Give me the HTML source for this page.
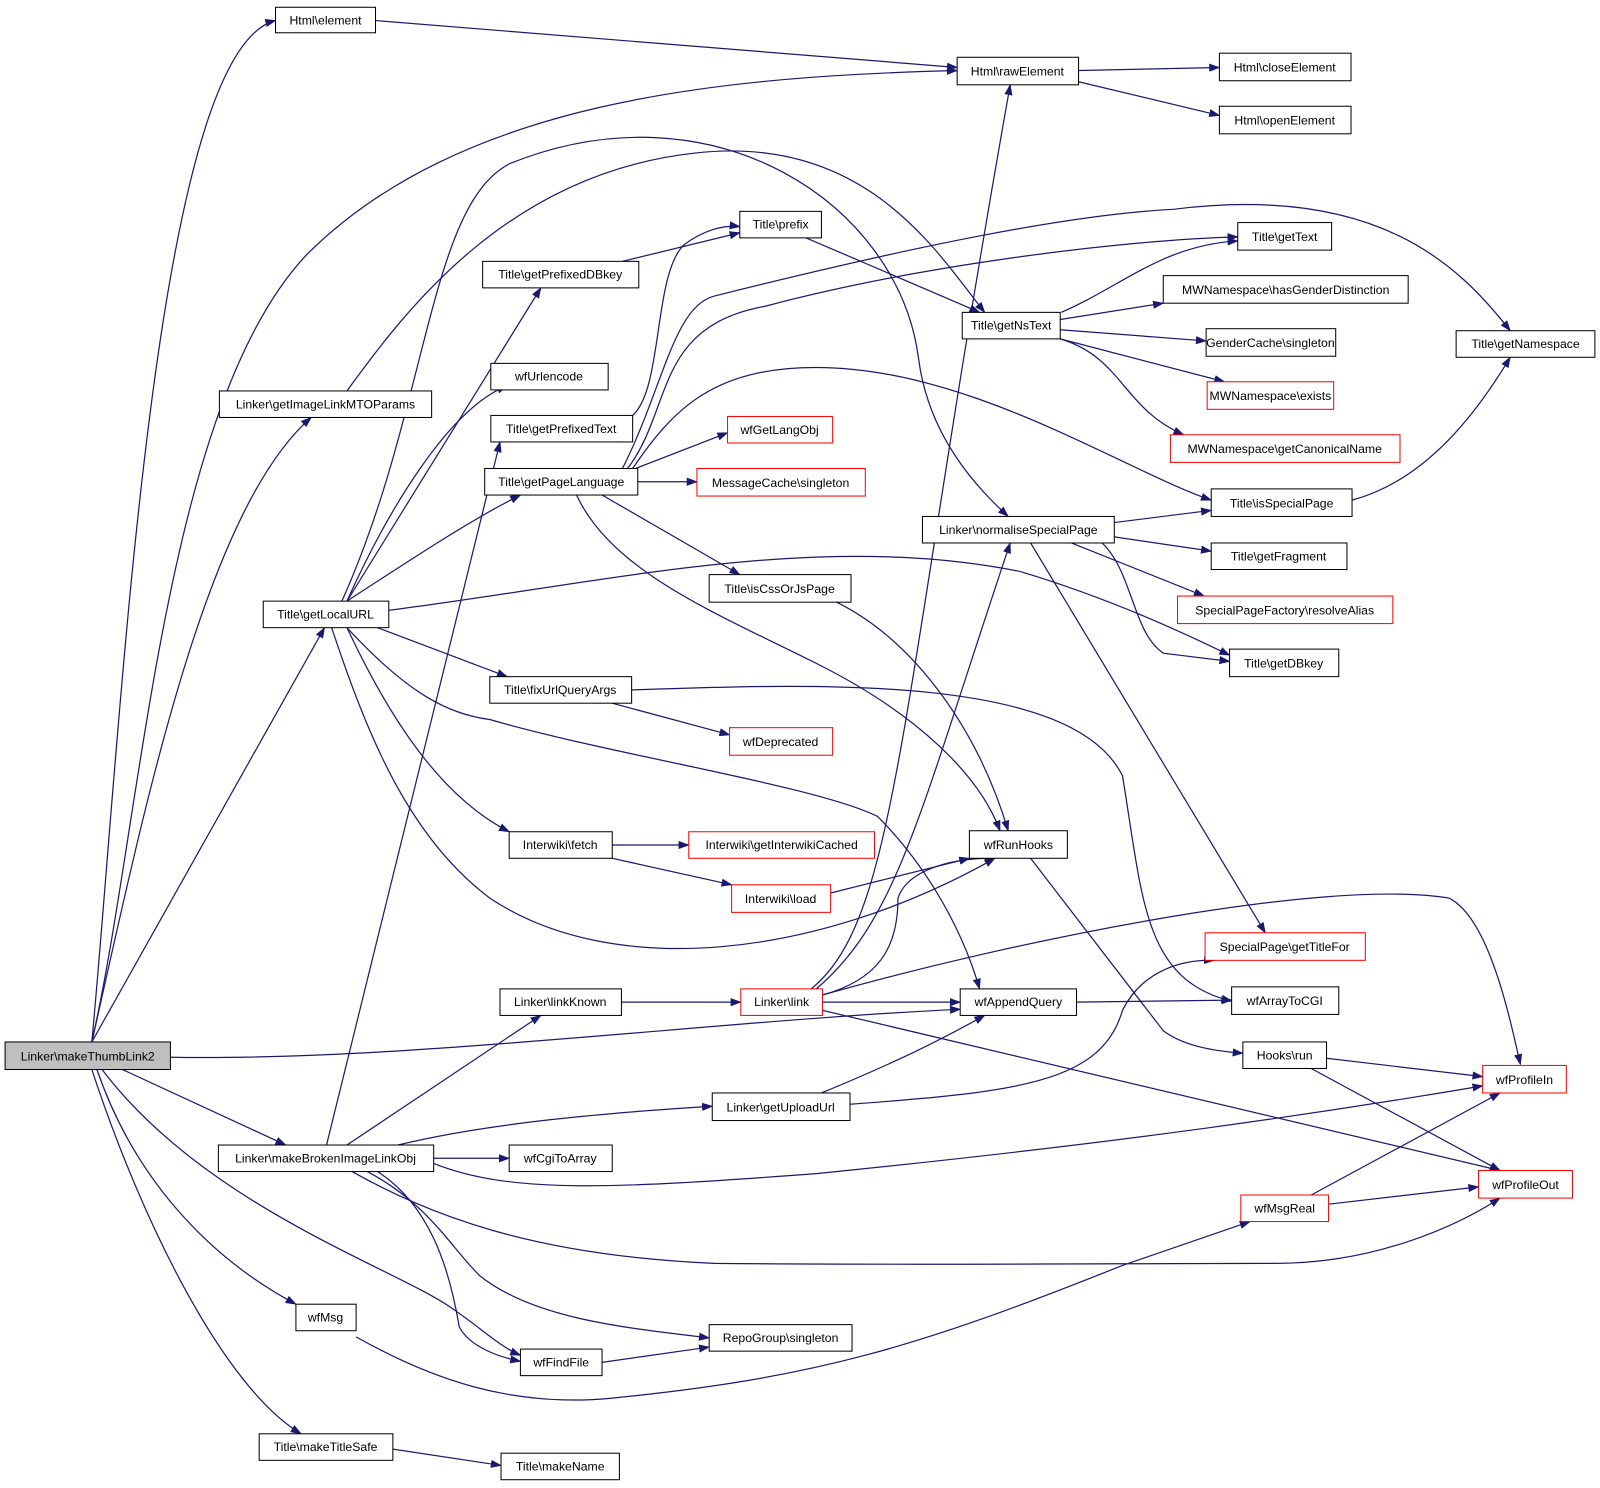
<!DOCTYPE html>
<html><head><meta charset="utf-8"><style>
html,body{margin:0;padding:0;background:#fff}
svg{display:block}
text{font-family:"Liberation Sans",Arial,sans-serif;font-size:12px;fill:#000}
.e{fill:none;stroke:#191970;stroke-width:1.2}
.n{fill:#fff;stroke:#000;stroke-width:1}
.r{fill:#fff;stroke:#ff0000;stroke-width:1}
</style></head><body>
<svg width="1600" height="1488" viewBox="0 0 1568 1458" xmlns="http://www.w3.org/2000/svg">
<defs><marker id="a" markerWidth="11" markerHeight="8" refX="10" refY="4" orient="auto" markerUnits="userSpaceOnUse"><polygon points="0,0 11,4 0,8" fill="#191970"/></marker></defs>
<g class="e" marker-end="url(#a)">
<path d="M90,1021 C120,700 150,50 270,20"/>
<path d="M90,1021 C140,800 160,400 300,250 C450,100 700,75 938,69"/>
<path d="M90,1021 C140,800 200,500 305,409"/>
<path d="M90,1021 L318,615"/>
<path d="M167,1036 C400,1040 700,1000 941,989"/>
<path d="M120,1048 L280,1122"/>
<path d="M95,1048 C130,1150 200,1230 290,1278"/>
<path d="M100,1048 C200,1180 380,1240 440,1280 C470,1300 490,1320 510,1328"/>
<path d="M90,1048 C140,1200 220,1360 295,1405"/>
<path d="M340,383 C400,300 500,170 680,150 C850,130 920,250 965,306"/>
<path d="M340,589 L530,282"/>
<path d="M340,589 C380,500 440,400 497,378"/>
<path d="M340,589 C400,550 460,510 510,485"/>
<path d="M335,589 C420,400 420,200 500,160 C700,80 880,200 900,350 C910,430 960,480 988,506"/>
<path d="M381,598 C600,570 800,520 1000,560 C1100,590 1180,630 1205,642"/>
<path d="M370,615 L497,663"/>
<path d="M340,615 C380,700 430,780 499,815"/>
<path d="M340,615 C400,680 440,700 480,705 C600,740 800,770 860,800 C900,840 940,900 960,969"/>
<path d="M325,615 C360,720 400,820 480,880 C600,960 800,940 975,841"/>
<path d="M610,256 L725,228"/>
<path d="M790,233 L960,306"/>
<path d="M620,407 C650,380 640,270 670,240 C690,225 710,220 725,222"/>
<path d="M610,459 C650,380 660,300 700,290 C900,240 1050,210 1150,205 C1350,180 1430,260 1480,324"/>
<path d="M615,459 C660,400 640,320 750,300 C900,260 1100,235 1213,232"/>
<path d="M620,459 C660,400 700,360 800,360 C950,360 1100,460 1187,490"/>
<path d="M615,462 L713,424"/>
<path d="M625,472 L683,472"/>
<path d="M590,485 L725,563"/>
<path d="M565,485 C600,560 700,600 800,650 C900,700 960,760 980,814"/>
<path d="M1040,306 C1100,280 1140,240 1213,236"/>
<path d="M1039,313 L1140,297"/>
<path d="M1039,323 L1182,334"/>
<path d="M1039,332 L1200,374"/>
<path d="M1039,332 C1100,350 1100,400 1160,426"/>
<path d="M1325,490 C1400,470 1450,400 1480,350"/>
<path d="M1092,512 L1187,500"/>
<path d="M1092,526 L1187,540"/>
<path d="M1050,532 L1180,584"/>
<path d="M1080,532 C1110,560 1110,620 1140,640 L1205,648"/>
<path d="M1010,532 L1240,914"/>
<path d="M820,590 C900,630 960,720 988,814"/>
<path d="M600,689 L715,720"/>
<path d="M619,676 C800,670 1050,660 1100,760 C1120,880 1120,960 1207,981"/>
<path d="M600,828 L675,828"/>
<path d="M600,841 L717,867"/>
<path d="M814,875 L950,841"/>
<path d="M1010,841 L1140,1010 C1160,1025 1190,1030 1218,1032"/>
<path d="M609,982 L726,982"/>
<path d="M795,969 C880,900 880,700 990,83"/>
<path d="M800,969 C880,900 900,800 990,532"/>
<path d="M806,975 C860,960 880,930 880,880 C890,850 940,840 975,841"/>
<path d="M806,975 C1000,920 1300,860 1420,880 C1460,900 1480,1000 1490,1043"/>
<path d="M806,982 L941,982"/>
<path d="M806,990 L1470,1147"/>
<path d="M1055,982 L1207,980"/>
<path d="M1300,1037 L1453,1055"/>
<path d="M1285,1047 L1470,1147"/>
<path d="M1285,1171 L1470,1071"/>
<path d="M1302,1180 L1449,1163"/>
<path d="M805,1071 C880,1040 920,1020 965,995"/>
<path d="M833,1082 C1000,1070 1080,1060 1100,990 C1120,950 1160,940 1190,941"/>
<path d="M340,1122 L530,995"/>
<path d="M320,1122 L490,433"/>
<path d="M390,1122 C480,1100 600,1090 698,1084"/>
<path d="M425,1135 L499,1135"/>
<path d="M425,1140 C500,1170 600,1165 800,1150 C1100,1120 1300,1090 1453,1064"/>
<path d="M345,1148 C420,1190 520,1230 700,1238 C900,1240 1100,1238 1250,1238 C1350,1238 1430,1200 1470,1174"/>
<path d="M360,1148 C420,1180 440,1220 470,1250 C520,1290 600,1300 695,1311"/>
<path d="M370,1148 C420,1180 440,1240 450,1300 C460,1320 490,1330 510,1334"/>
<path d="M349,1310 C420,1350 500,1380 600,1370 C800,1350 900,1320 1100,1240 L1225,1197"/>
<path d="M590,1335 L695,1320"/>
<path d="M385,1420 L491,1436"/>
<path d="M368,20 L938,66"/>
<path d="M1057,69 L1195,66"/>
<path d="M1057,80 L1195,113"/>
</g>
<g text-anchor="middle">
<rect class="n" x="270" y="7" width="98" height="25"/><text x="319" y="24">Html\element</text>
<rect class="n" x="938" y="56" width="119" height="27"/><text x="997" y="74">Html\rawElement</text>
<rect class="n" x="1195" y="52" width="129" height="27"/><text x="1259" y="70">Html\closeElement</text>
<rect class="n" x="1195" y="104" width="129" height="27"/><text x="1259" y="122">Html\openElement</text>
<rect class="n" x="725" y="207" width="80" height="26"/><text x="765" y="224">Title\prefix</text>
<rect class="n" x="1213" y="218" width="92" height="27"/><text x="1259" y="236">Title\getText</text>
<rect class="n" x="473" y="256" width="153" height="26"/><text x="549" y="273">Title\getPrefixedDBkey</text>
<rect class="n" x="1140" y="270" width="240" height="27"/><text x="1260" y="288">MWNamespace\hasGenderDistinction</text>
<rect class="n" x="943" y="306" width="96" height="26"/><text x="991" y="323">Title\getNsText</text>
<rect class="n" x="1182" y="322" width="127" height="27"/><text x="1245" y="340">GenderCache\singleton</text>
<rect class="n" x="1427" y="324" width="136" height="26"/><text x="1495" y="341">Title\getNamespace</text>
<rect class="n" x="481" y="356" width="115" height="26"/><text x="538" y="373">wfUrlencode</text>
<rect class="n" x="215" y="383" width="208" height="26"/><text x="319" y="400">Linker\getImageLinkMTOParams</text>
<rect class="r" x="1183" y="374" width="124" height="27"/><text x="1245" y="392">MWNamespace\exists</text>
<rect class="n" x="481" y="407" width="139" height="26"/><text x="550" y="424">Title\getPrefixedText</text>
<rect class="r" x="713" y="408" width="103" height="26"/><text x="764" y="425">wfGetLangObj</text>
<rect class="r" x="1147" y="426" width="225" height="27"/><text x="1259" y="444">MWNamespace\getCanonicalName</text>
<rect class="n" x="475" y="459" width="150" height="26"/><text x="550" y="476">Title\getPageLanguage</text>
<rect class="r" x="683" y="459" width="165" height="27"/><text x="765" y="477">MessageCache\singleton</text>
<rect class="n" x="1187" y="479" width="138" height="27"/><text x="1256" y="497">Title\isSpecialPage</text>
<rect class="n" x="904" y="506" width="188" height="26"/><text x="998" y="523">Linker\normaliseSpecialPage</text>
<rect class="n" x="1187" y="532" width="133" height="26"/><text x="1253" y="549">Title\getFragment</text>
<rect class="n" x="258" y="589" width="123" height="26"/><text x="319" y="606">Title\getLocalURL</text>
<rect class="n" x="695" y="563" width="139" height="27"/><text x="764" y="581">Title\isCssOrJsPage</text>
<rect class="r" x="1154" y="584" width="211" height="27"/><text x="1259" y="602">SpecialPageFactory\resolveAlias</text>
<rect class="n" x="1205" y="636" width="107" height="27"/><text x="1258" y="654">Title\getDBkey</text>
<rect class="n" x="480" y="663" width="139" height="26"/><text x="549" y="680">Title\fixUrlQueryArgs</text>
<rect class="r" x="715" y="713" width="101" height="27"/><text x="765" y="731">wfDeprecated</text>
<rect class="n" x="950" y="814" width="96" height="27"/><text x="998" y="832">wfRunHooks</text>
<rect class="n" x="499" y="815" width="101" height="26"/><text x="549" y="832">Interwiki\fetch</text>
<rect class="r" x="675" y="815" width="182" height="26"/><text x="766" y="832">Interwiki\getInterwikiCached</text>
<rect class="r" x="717" y="867" width="97" height="27"/><text x="765" y="885">Interwiki\load</text>
<rect class="r" x="1181" y="914" width="157" height="27"/><text x="1259" y="932">SpecialPage\getTitleFor</text>
<rect class="n" x="490" y="969" width="119" height="26"/><text x="549" y="986">Linker\linkKnown</text>
<rect class="r" x="726" y="969" width="80" height="26"/><text x="766" y="986">Linker\link</text>
<rect class="n" x="941" y="969" width="114" height="26"/><text x="998" y="986">wfAppendQuery</text>
<rect class="n" x="1207" y="967" width="105" height="27"/><text x="1259" y="985">wfArrayToCGI</text>
<rect x="5" y="1021" width="162" height="27" fill="#bfbfbf" stroke="#000"/><text x="86" y="1039">Linker\makeThumbLink2</text>
<rect class="n" x="1218" y="1021" width="82" height="26"/><text x="1259" y="1038">Hooks\run</text>
<rect class="r" x="1453" y="1044" width="82" height="27"/><text x="1494" y="1062">wfProfileIn</text>
<rect class="n" x="698" y="1071" width="135" height="27"/><text x="765" y="1089">Linker\getUploadUrl</text>
<rect class="n" x="214" y="1122" width="211" height="26"/><text x="319" y="1139">Linker\makeBrokenImageLinkObj</text>
<rect class="n" x="499" y="1122" width="101" height="26"/><text x="549" y="1139">wfCgiToArray</text>
<rect class="r" x="1449" y="1147" width="92" height="27"/><text x="1495" y="1165">wfProfileOut</text>
<rect class="r" x="1216" y="1171" width="86" height="26"/><text x="1259" y="1188">wfMsgReal</text>
<rect class="n" x="290" y="1278" width="59" height="26"/><text x="319" y="1295">wfMsg</text>
<rect class="n" x="695" y="1298" width="140" height="26"/><text x="765" y="1315">RepoGroup\singleton</text>
<rect class="n" x="510" y="1322" width="80" height="26"/><text x="550" y="1339">wfFindFile</text>
<rect class="n" x="254" y="1405" width="131" height="26"/><text x="319" y="1422">Title\makeTitleSafe</text>
<rect class="n" x="491" y="1424" width="116" height="26"/><text x="549" y="1441">Title\makeName</text>
</g>
</svg>
</body></html>
